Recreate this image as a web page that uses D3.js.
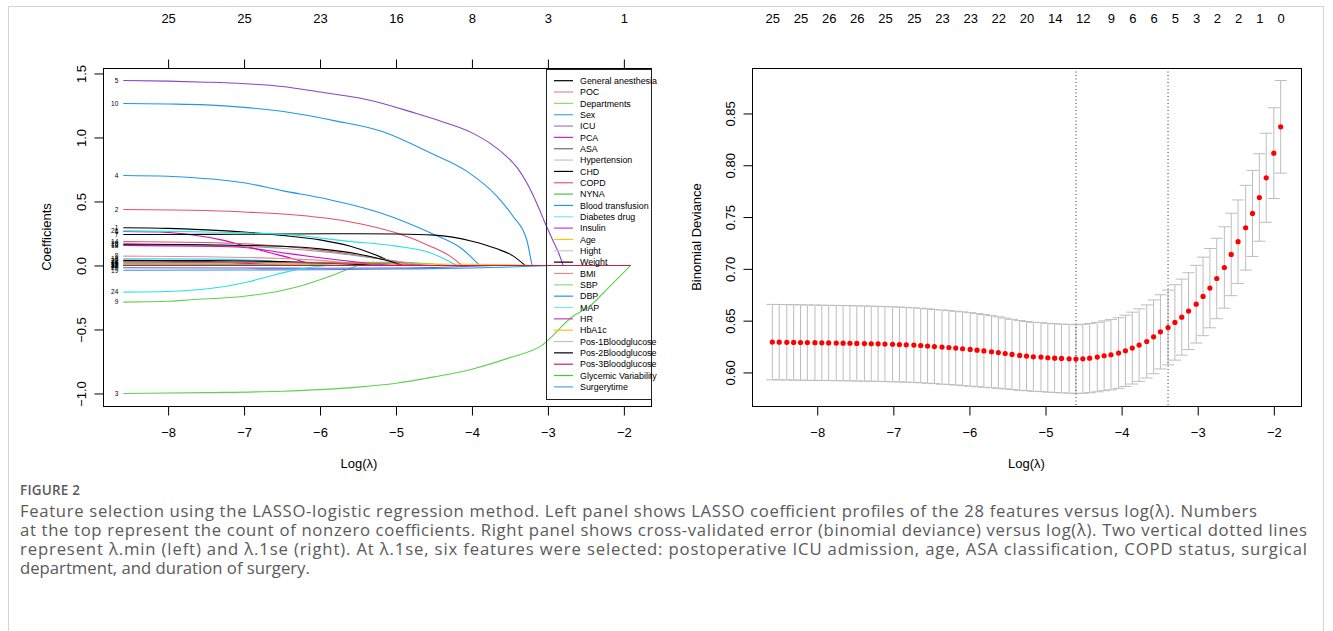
<!DOCTYPE html>
<html>
<head>
<meta charset="utf-8">
<script src="https://cdn.jsdelivr.net/npm/d3@7"></script>
<style>
  html, body { margin: 0; padding: 0; background: #fff; }
  svg { display: block; font-family: "Liberation Sans", Arial, sans-serif; }
</style>
</head>
<body>
<svg id="fig" width="1333" height="631"></svg>
<script>
// ── Data ─────────────────────────────────────────────────────────────
const featureNames = ["General anesthesia", "POC", "Departments", "Sex", "ICU", "PCA", "ASA",
  "Hypertension", "CHD", "COPD", "NYNA", "Blood transfusion", "Diabetes drug", "Insulin", "Age",
  "Hight", "Weight", "BMI", "SBP", "DBP", "MAP", "HR", "HbA1c", "Pos-1Bloodglucose",
  "Pos-2Bloodglucose", "Pos-3Bloodglucose", "Glycemic Variability", "Surgerytime"];

const legendColors = ["#000000", "#e8869a", "#8edb7a", "#4aa8e8", "#a07cc8", "#e020d0", "#6e6e6e",
  "#c4c4c4", "#000000", "#e05a6e", "#50c040", "#2297e6", "#7fe7ea", "#c040c8", "#f5c710",
  "#c8c8c8", "#000000", "#e8889a", "#90e080", "#2297e6", "#7fe7ea", "#c040c8", "#f5c710",
  "#c0c0c0", "#000000", "#d0205a", "#50c040", "#4aa8e8"];

const lineColors = ["#000000", "#df536b", "#61d04f", "#2297e6", "#8b45c2", "#cd0bbc", "#000000",
  "#e88ba0", "#61d04f", "#2297e6", "#61d04f", "#9e9e9e", "#28e2e5", "#df536b", "#f5c710",
  "#9e9e9e", "#000000", "#cd0bbc", "#2297e6", "#8b45c2", "#28e2e5", "#cd0bbc", "#000000",
  "#28e2e5", "#000000", "#df536b", "#61d04f", "#c21e4f"];

// coefficient profile of each feature: [log(lambda), coefficient] until it reaches zero
const coefPaths = [
  [[-8.59, 0.295], [-8, 0.29], [-7.5, 0.278], [-7, 0.262], [-6.5, 0.235], [-6, 0.2], [-5.6, 0.15], [-5.3, 0.09], [-5.1, 0.04], [-4.95, 0]],
  [[-8.59, 0.4375], [-7.5, 0.43], [-7, 0.418], [-6.4, 0.398], [-5.65, 0.346], [-5, 0.255], [-4.55, 0.151], [-4.29, 0.073], [-4.13, 0]],
  [[-8.59, -1.0], [-7.5, -0.993], [-6.5, -0.982], [-6, -0.97], [-5.5, -0.95], [-5, -0.92], [-4.5, -0.87], [-4, -0.81], [-3.5, -0.72], [-3.1, -0.632], [-2.67, -0.397], [-2.45, -0.318], [-2.23, -0.19], [-1.91, 0]],
  [[-8.59, 0.703], [-8, 0.697], [-7.7, 0.687], [-7.3, 0.668], [-7, 0.646], [-6.5, 0.585], [-5.9, 0.518], [-5.2, 0.41], [-4.55, 0.255], [-4.12, 0.125], [-3.9, 0]],
  [[-8.59, 1.445], [-8, 1.44], [-7.5, 1.432], [-7, 1.42], [-6.5, 1.398], [-6, 1.355], [-5.5, 1.31], [-5.2, 1.27], [-4.8, 1.2], [-4.4, 1.125], [-4, 1.036], [-3.75, 0.95], [-3.55, 0.855], [-3.4, 0.76], [-3.28, 0.648], [-3.15, 0.49], [-3.04, 0.336], [-2.93, 0.19], [-2.86, 0.1], [-2.8, 0]],
  [[-8.59, 0.265], [-8, 0.258], [-7.7, 0.24], [-7.3, 0.2], [-7, 0.155], [-6.7, 0.105], [-6.4, 0.06], [-6.2, 0.025], [-6.05, 0]],
  [[-8.59, 0.242], [-7.5, 0.243], [-6.5, 0.246], [-5.5, 0.248], [-5, 0.246], [-4.5, 0.237], [-4, 0.19], [-3.67, 0.13], [-3.46, 0.075], [-3.3, 0]],
  [[-8.59, 0.073], [-7.5, 0.068], [-6.5, 0.055], [-6, 0.04], [-5.6, 0.018], [-5.3, 0]],
  [[-8.59, -0.286], [-8, -0.28], [-7.7, -0.268], [-7, -0.24], [-6.5, -0.195], [-6.2, -0.15], [-5.9, -0.09], [-5.7, -0.045], [-5.5, 0]],
  [[-8.59, 1.266], [-8, 1.262], [-7.5, 1.255], [-7, 1.235], [-6.4, 1.195], [-5.8, 1.13], [-5.2, 1.05], [-4.55, 0.88], [-4.07, 0.737], [-3.67, 0.54], [-3.46, 0.385], [-3.28, 0.203], [-3.21, 0]],
  [[-8.59, 0.016], [-7, 0.02], [-6, 0.025], [-5, 0.024], [-4.6, 0.015], [-4.3, 0]],
  [[-8.59, 0]],
  [[-8.59, 0.052], [-7.5, 0.05], [-6.8, 0.04], [-6.3, 0.02], [-5.8, 0]],
  [[-8.59, 0.186], [-7.5, 0.18], [-6.5, 0.15], [-6, 0.12], [-5.5, 0.08], [-5, 0.03], [-4.75, 0]],
  [[-8.59, 0.008], [-7, 0.01], [-6, 0.012], [-5, 0.012], [-4, 0.01], [-3.5, 0.006], [-3.1, 0]],
  [[-8.59, 0.162], [-7.5, 0.155], [-6.5, 0.135], [-6, 0.11], [-5.5, 0.075], [-5, 0.035], [-4.6, 0]],
  [[-8.59, 0]],
  [[-8.59, 0.156], [-7.5, 0.15], [-7, 0.14], [-6.5, 0.1], [-6, 0.06], [-5.5, 0.025], [-5.05, 0]],
  [[-8.59, -0.037], [-7, -0.035], [-6, -0.033], [-5, -0.028], [-4, -0.02], [-3.5, -0.012], [-2.95, 0]],
  [[-8.59, -0.018], [-7, -0.02], [-6, -0.022], [-5, -0.02], [-4.3, -0.012], [-3.7, 0]],
  [[-8.59, 0.27], [-7.5, 0.262], [-6.4, 0.24], [-5.65, 0.19], [-5, 0.151], [-4.55, 0.1], [-4.2, 0]],
  [[-8.59, 0.034], [-7.5, 0.03], [-7, 0.018], [-6.5, 0]],
  [[-8.59, 0.167], [-7.5, 0.162], [-6.5, 0.15], [-6, 0.13], [-5.5, 0.09], [-5.2, 0.05], [-4.9, 0]],
  [[-8.59, -0.208], [-8, -0.203], [-7.7, -0.193], [-7.3, -0.168], [-7, -0.135], [-6.7, -0.09], [-6.4, -0.044], [-6.1, -0.012], [-5.9, 0]],
  [[-8.59, 0.04], [-7.5, 0.038], [-6.5, 0.03], [-5.8, 0.015], [-5.2, 0]],
  [[-8.59, 0.025], [-7, 0.022], [-6, 0.02], [-5, 0.012], [-4.5, 0]],
  [[-8.59, 0.01], [-7, 0.008], [-6, 0.004], [-5.6, 0]],
  [[-8.59, 0]]
];

const pathTicks  = [-8, -7, -6, -5, -4, -3, -2];
const pathCounts = [25, 25, 23, 16, 8, 3, 1];

// cross-validation
const logLambda = [-8.59, -8.50, -8.40, -8.31, -8.22, -8.13, -8.03, -7.94, -7.85, -7.75, -7.66, -7.57,
  -7.48, -7.38, -7.29, -7.20, -7.11, -7.01, -6.92, -6.83, -6.73, -6.64, -6.55, -6.46, -6.36, -6.27,
  -6.18, -6.09, -5.99, -5.90, -5.81, -5.71, -5.62, -5.53, -5.44, -5.34, -5.25, -5.16, -5.06, -4.97,
  -4.88, -4.79, -4.69, -4.60, -4.51, -4.42, -4.32, -4.23, -4.14, -4.04, -3.95, -3.86, -3.77, -3.67,
  -3.58, -3.49, -3.39, -3.30, -3.21, -3.12, -3.02, -2.93, -2.84, -2.75, -2.65, -2.56, -2.47, -2.37,
  -2.28, -2.19, -2.10, -2.00, -1.91];
const cvMean = [0.6293, 0.6292, 0.6291, 0.6290, 0.6289, 0.6288, 0.6287, 0.6286, 0.6285, 0.6284,
  0.6283, 0.6282, 0.6280, 0.6279, 0.6277, 0.6276, 0.6274, 0.6272, 0.6270, 0.6267, 0.6264, 0.6260,
  0.6255, 0.6250, 0.6245, 0.6240, 0.6235, 0.6229, 0.6222, 0.6215, 0.6208, 0.6200, 0.6192, 0.6183,
  0.6174, 0.6164, 0.6158, 0.6151, 0.6148, 0.6142, 0.6138, 0.6135, 0.6132, 0.6129, 0.6132, 0.6138,
  0.6148, 0.6161, 0.6171, 0.6187, 0.6209, 0.6235, 0.6264, 0.6299, 0.6344, 0.6392, 0.6434, 0.6483,
  0.6534, 0.6592, 0.6659, 0.6734, 0.6814, 0.6907, 0.7013, 0.7139, 0.7262, 0.7397, 0.7535, 0.7689,
  0.7879, 0.8117, 0.8371];
const cvSD = [0.0364, 0.0364, 0.0364, 0.0364, 0.0364, 0.0364, 0.0364, 0.0363, 0.0363, 0.0363,
  0.0363, 0.0363, 0.0363, 0.0363, 0.0362, 0.0362, 0.0362, 0.0362, 0.0361, 0.0361, 0.0360, 0.0360,
  0.0359, 0.0358, 0.0358, 0.0357, 0.0356, 0.0356, 0.0355, 0.0353, 0.0351, 0.0348, 0.0345, 0.0342,
  0.0339, 0.0336, 0.0334, 0.0333, 0.0333, 0.0332, 0.0332, 0.0332, 0.0332, 0.0332, 0.0333, 0.0334,
  0.0335, 0.0337, 0.0339, 0.0341, 0.0344, 0.0347, 0.0350, 0.0353, 0.0356, 0.0358, 0.0361, 0.0364,
  0.0367, 0.0371, 0.0375, 0.0379, 0.0383, 0.0388, 0.0393, 0.0398, 0.0403, 0.0409, 0.0415, 0.0422,
  0.0430, 0.0438, 0.0447];
const cvTopIndex  = [0, 4, 8, 12, 16, 20, 24, 28, 32, 36, 40, 44, 48, 51, 54, 57, 60, 63, 66, 69, 72];
const cvTopCounts = [25, 25, 26, 26, 25, 25, 23, 23, 22, 20, 14, 12, 9, 6, 6, 5, 3, 2, 2, 1, 0];
const lambdaMin = -4.60, lambda1se = -3.39;

const captionTitle = "FIGURE 2";
const captionLines = [
  "Feature selection using the LASSO-logistic regression method. Left panel shows LASSO coefficient profiles of the 28 features versus log(λ). Numbers",
  "at the top represent the count of nonzero coefficients. Right panel shows cross-validated error (binomial deviance) versus log(λ). Two vertical dotted lines",
  "represent λ.min (left) and λ.1se (right). At λ.1se, six features were selected: postoperative ICU admission, age, ASA classification, COPD status, surgical",
  "department, and duration of surgery."
];

// ── Layout ───────────────────────────────────────────────────────────
const svg = d3.select("#fig");
const BOX_T = 68, BOX_B = 406;
const LX0 = 103, LX1 = 651;     // left panel box
const RX0 = 752, RX1 = 1301;    // right panel box
const TOP_LABEL_Y = 22;         // baseline of the count labels above the panels
const FONT = 13;

const pad = (ext, f = 0.04) => { const d = (ext[1] - ext[0]) * f; return [ext[0] - d, ext[1] + d]; };

// outer frame
svg.append("rect")
  .attr("x", 8.5).attr("y", 6.5).attr("width", 1315).attr("height", 660)
  .attr("fill", "none").attr("stroke", "#d4d4d4").attr("stroke-width", 1);

function styleAxis(g) {
  g.select(".domain").remove();
  g.attr("font-family", null).attr("font-size", FONT);
  g.selectAll("line").attr("stroke", "#000");
  g.selectAll("text").attr("fill", "#000");
}
function rotateLabels(g, off) {
  g.selectAll(".tick text")
    .attr("transform", "rotate(-90)")
    .attr("x", 0).attr("y", -off).attr("dy", null)
    .attr("text-anchor", "middle");
}

// ── Left panel: coefficient profiles ─────────────────────────────────
const xExt = d3.extent(logLambda);
const xL = d3.scaleLinear().domain(pad(xExt)).range([LX0, LX1]);
const yL = d3.scaleLinear().domain(pad(d3.extent(coefPaths.flat(), d => d[1]))).range([BOX_B, BOX_T]);

const gL = svg.append("g");
const curve = d3.line().x(d => xL(d[0])).y(d => yL(d[1])).curve(d3.curveMonotoneX);

coefPaths.forEach((p, i) => {
  let dStr = p.length > 1 ? curve(p) : `M${xL(p[0][0])},${yL(p[0][1])}`;
  dStr += `L${xL(xExt[1])},${yL(0)}`;
  gL.append("path").attr("d", dStr)
    .attr("fill", "none").attr("stroke", lineColors[i]).attr("stroke-width", 1.1);
});

coefPaths.forEach((p, i) => {
  gL.append("text")
    .attr("x", xL(p[0][0]) - 5).attr("y", yL(p[0][1]) + 2.3)
    .attr("text-anchor", "end").attr("font-size", 6.5).attr("fill", "#000")
    .text(i + 1);
});

gL.append("rect")
  .attr("x", LX0 + 0.5).attr("y", BOX_T + 0.5)
  .attr("width", LX1 - LX0).attr("height", BOX_B - BOX_T)
  .attr("fill", "none").attr("stroke", "#000");

gL.append("g").attr("transform", `translate(0,${BOX_B + 0.5})`)
  .call(d3.axisBottom(xL).tickValues(pathTicks).tickSize(9).tickPadding(12).tickFormat(d3.format("d")))
  .call(styleAxis);

gL.append("g").attr("transform", `translate(0,${BOX_T + 0.5})`)
  .call(d3.axisTop(xL).tickValues(pathTicks).tickSize(9).tickPadding(BOX_T - 9 - TOP_LABEL_Y).tickFormat((d, i) => pathCounts[i]))
  .call(styleAxis);

gL.append("g").attr("transform", `translate(${LX0 + 0.5},0)`)
  .call(d3.axisLeft(yL).tickValues([-1, -0.5, 0, 0.5, 1, 1.5]).tickSize(9).tickFormat(d3.format(".1f")))
  .call(styleAxis).call(g => rotateLabels(g, 18));

gL.append("text")
  .attr("transform", `translate(51,${(BOX_T + BOX_B) / 2}) rotate(-90)`)
  .attr("text-anchor", "middle").attr("font-size", FONT).text("Coefficients");
gL.append("text")
  .attr("x", 359).attr("y", 468)
  .attr("text-anchor", "middle").attr("font-size", FONT).text("Log(λ)");

// legend
const LEG_W = 105, LEG_H = 330, LEG_ROW = 11.34;
const legX = LX1 - LEG_W, legY = BOX_T + 1;
const leg = gL.append("g").attr("transform", `translate(${legX},${legY})`);
leg.append("rect").attr("x", 0.5).attr("y", 0.5).attr("width", LEG_W).attr("height", LEG_H)
  .attr("fill", "none").attr("stroke", "#222");
featureNames.forEach((name, i) => {
  const yy = 11.7 + i * LEG_ROW;
  leg.append("line").attr("x1", 8).attr("x2", 27).attr("y1", yy).attr("y2", yy)
    .attr("stroke", legendColors[i]).attr("stroke-width", 1.2);
  leg.append("text").attr("x", 34).attr("y", yy + 3.2)
    .attr("font-size", 8.9).attr("fill", "#000").text(name);
});

// ── Right panel: cross-validated deviance ────────────────────────────
const xR = d3.scaleLinear().domain(pad(xExt)).range([RX0, RX1]);
const lower = cvMean.map((m, i) => m - cvSD[i]);
const upper = cvMean.map((m, i) => m + cvSD[i]);
const yR = d3.scaleLinear().domain(pad([d3.min(lower), d3.max(upper)])).range([BOX_B, BOX_T]);

const gR = svg.append("g");
const CAP = 6;
const bars = gR.append("g").attr("stroke", "#bdbdbd").attr("stroke-width", 1);
logLambda.forEach((x, i) => {
  const px = xR(x);
  bars.append("line").attr("x1", px).attr("x2", px).attr("y1", yR(upper[i])).attr("y2", yR(lower[i]));
  bars.append("line").attr("x1", px - CAP).attr("x2", px + CAP).attr("y1", yR(upper[i])).attr("y2", yR(upper[i]));
  bars.append("line").attr("x1", px - CAP).attr("x2", px + CAP).attr("y1", yR(lower[i])).attr("y2", yR(lower[i]));
});

gR.append("g").selectAll("circle").data(logLambda).join("circle")
  .attr("cx", d => xR(d)).attr("cy", (d, i) => yR(cvMean[i]))
  .attr("r", 2.6).attr("fill", "#ff0000");

[lambdaMin, lambda1se].forEach(v => {
  gR.append("line")
    .attr("x1", xR(v)).attr("x2", xR(v)).attr("y1", BOX_T).attr("y2", BOX_B)
    .attr("stroke", "#333").attr("stroke-width", 1).attr("stroke-dasharray", "1,2.5");
});

gR.append("rect")
  .attr("x", RX0 + 0.5).attr("y", BOX_T + 0.5)
  .attr("width", RX1 - RX0).attr("height", BOX_B - BOX_T)
  .attr("fill", "none").attr("stroke", "#000");

gR.append("g").attr("transform", `translate(0,${BOX_B + 0.5})`)
  .call(d3.axisBottom(xR).tickValues(pathTicks).tickSize(9).tickPadding(12).tickFormat(d3.format("d")))
  .call(styleAxis);

gR.append("g").attr("transform", `translate(0,${BOX_T + 0.5})`)
  .call(d3.axisTop(xR).tickValues(cvTopIndex.map(i => logLambda[i])).tickSize(0).tickPadding(BOX_T - TOP_LABEL_Y)
    .tickFormat((d, i) => cvTopCounts[i]))
  .call(styleAxis);

gR.append("g").attr("transform", `translate(${RX0 + 0.5},0)`)
  .call(d3.axisLeft(yR).tickValues([0.60, 0.65, 0.70, 0.75, 0.80, 0.85]).tickSize(9).tickFormat(d3.format(".2f")))
  .call(styleAxis).call(g => rotateLabels(g, 18));

gR.append("text")
  .attr("transform", `translate(701,${(BOX_T + BOX_B) / 2}) rotate(-90)`)
  .attr("text-anchor", "middle").attr("font-size", FONT).text("Binomial Deviance");
gR.append("text")
  .attr("x", (RX0 + RX1) / 2).attr("y", 468)
  .attr("text-anchor", "middle").attr("font-size", FONT).text("Log(λ)");

// ── Caption ──────────────────────────────────────────────────────────
const cap = svg.append("g").attr("font-family", "'Open Sans', 'Noto Sans', sans-serif").attr("fill", "#5a5a5a");
cap.append("text").attr("x", 20).attr("y", 495)
  .attr("font-size", 13.5).attr("font-weight", 600).attr("letter-spacing", "0.2px").text(captionTitle);
const capEnds = [1257, 1307, 1307, null];
captionLines.forEach((t, i) => {
  const tx = cap.append("text").attr("x", 20).attr("y", 517 + i * 19)
    .attr("font-size", 16.7).text(t);
  if (capEnds[i]) tx.attr("textLength", capEnds[i] - 20).attr("lengthAdjust", "spacing");
});
</script>
</body>
</html>
